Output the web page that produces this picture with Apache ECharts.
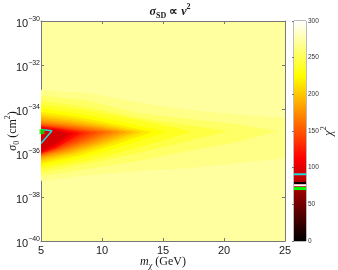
<!DOCTYPE html>
<html><head><meta charset="utf-8">
<script src="https://cdn.jsdelivr.net/npm/echarts@6/dist/echarts.min.js"></script>
<style>html,body{margin:0;padding:0;background:#fff}#c{width:338px;height:270px}</style>
</head><body><div id="c"></div>
<script>
// ---- data ----
const xTicks = [5, 10, 15, 20, 25];                 // m_chi (GeV)
const yTickExps = [-40, -38, -36, -34, -32, -30];   // log10 sigma_0 (cm^2)
const cbarTicks = [0, 50, 100, 150, 200, 250, 300]; // chi^2
const bgLevel = 272;                                 // chi^2 outside all contours
const levels = [270, 260, 250, 240, 230, 220, 210, 200, 190, 180, 170, 160, 150, 140, 130, 120, 110, 100];
// closed contour boundaries, points are [m_chi, log10 sigma_0]
const c270 = [[5,-33.14],[9,-33.3],[13,-33.72],[17,-34.05],[21,-34.25],[25,-34.42],[25,-36.23],[21,-36.45],[17,-36.68],[13,-36.8],[9,-37.0],[5,-37.25]];
const c260 = [[5,-33.41],[9,-33.65],[13,-34.2],[17,-34.45],[21,-34.7],[24.3,-35.0],[21,-35.5],[17,-35.9],[13,-36.35],[9,-36.7],[5,-37.05]];
const c250 = [[5,-33.62],[9,-33.95],[13,-34.42],[17,-34.75],[20.2,-35.0],[17,-35.45],[13,-35.98],[9,-36.45],[5,-36.88]];
const c240 = [[5,-33.82],[9.1,-34.12],[13.2,-34.54],[17.3,-35.02],[13.2,-35.7],[9.1,-36.3],[5,-36.73]];
const c230 = [[5,-34.0],[8.4,-34.26],[11.8,-34.62],[15.2,-35.03],[11.8,-35.66],[8.4,-36.21],[5,-36.6]];
const c220 = [[5,-34.15],[8,-34.38],[11,-34.69],[14,-35.05],[11,-35.62],[8,-36.12],[5,-36.48]];
const c210 = [[5,-34.27],[7.7,-34.47],[10.5,-34.74],[13.2,-35.05],[10.5,-35.58],[7.7,-36.05],[5,-36.38]];
const c200 = [[5,-34.38],[7.5,-34.55],[10.1,-34.78],[12.6,-35.05],[10.1,-35.55],[7.5,-35.99],[5,-36.3]];
const c190 = [[5,-34.48],[7.3,-34.62],[9.7,-34.82],[12,-35.05],[9.7,-35.52],[7.3,-35.94],[5,-36.23]];
const c180 = [[5,-34.56],[7.1,-34.68],[9.3,-34.85],[11.4,-35.05],[9.3,-35.5],[7.1,-35.89],[5,-36.17]];
const c170 = [[5,-34.63],[6.9,-34.74],[8.9,-34.88],[10.8,-35.05],[8.9,-35.48],[6.9,-35.85],[5,-36.12]];
const c160 = [[5,-34.69],[6.7,-34.78],[8.5,-34.92],[10.2,-35.06],[8.5,-35.46],[6.7,-35.82],[5,-36.08]];
const c150 = [[5,-34.74],[6.5,-34.82],[8.1,-34.94],[9.6,-35.07],[8.1,-35.45],[6.5,-35.8],[5,-36.05]];
const c140 = [[5,-34.78],[6.3,-34.85],[7.7,-34.96],[9.0,-35.08],[7.7,-35.44],[6.3,-35.78],[5,-36.02]];
const c130 = [[5,-34.8],[6.2,-34.87],[7.3,-34.97],[8.5,-35.09],[7.3,-35.43],[6.2,-35.77],[5,-36.0]];
const c120 = [[5,-34.83],[6.1,-34.89],[7.1,-34.99],[8.1,-35.1],[7.1,-35.45],[6.1,-35.76],[5,-35.98]];
const c110 = [[5,-34.86],[6.2,-34.93],[7.6,-35.12],[6.2,-35.65],[5,-35.95]];
const c100 = [[5,-34.9],[6.1,-34.97],[7.2,-35.15],[6.1,-35.6],[5,-35.9]];
const contours = [c270, c260, c250, c240, c230, c220, c210, c200, c190, c180, c170, c160, c150, c140, c130, c120, c110, c100];
const cyanContour = [[5.0,-34.93],[5.9,-34.99],[5.0,-35.57]];
const bestFit = [[5.08,-35.03]];
const cbarMarks = [91, 79, 76, 71.5];               // chi^2 values marked on the colour bar

// ---- styling ----
const cbarMarkColors = ['#22d8d8', '#000000', '#ffffff', '#00ff00'];
const cbarMarkPx = [2, 2, 2, 3];
const CMAX = 300;
function clamp(v){ return Math.max(0, Math.min(1, v)); }
function hot(v){
  const r = clamp(v / (CMAX*0.375)), g = clamp((v - CMAX*0.375) / (CMAX*0.375)), b = clamp((v - CMAX*0.75) / (CMAX*0.25));
  const h = x => Math.round(x*255).toString(16).padStart(2,'0');
  return '#' + h(r) + h(g) + h(b);
}
const AX = '#777';
const TXT = '#1a1a1a';
const SANS = 'Liberation Sans';
const SERIF = 'Liberation Serif';
const mathRich = {
  i: {fontFamily: SERIF, fontStyle: 'italic', fontSize: 12, color: TXT, verticalAlign: 'top', padding: [3,0,0,0], lineHeight: 12},
  n: {fontFamily: SERIF, fontSize: 12, color: TXT, verticalAlign: 'top', padding: [3,0,0,0], lineHeight: 12},
  sub: {fontFamily: SERIF, fontSize: 8, color: TXT, verticalAlign: 'top', padding: [9,0,0,0], lineHeight: 8},
  subi: {fontFamily: SERIF, fontStyle: 'italic', fontSize: 8, color: TXT, verticalAlign: 'top', padding: [9,0,0,0], lineHeight: 8},
  sup: {fontFamily: SERIF, fontSize: 8, color: TXT, verticalAlign: 'top', padding: [0,0,0,0], lineHeight: 8}
};

const chart = echarts.init(document.getElementById('c'), null, {renderer: 'canvas'});
const axisCommon = {
  axisLine: {show: true, lineStyle: {color: AX, width: 1}},
  axisTick: {show: true, inside: true, length: 3, lineStyle: {color: AX, width: 1}},
  splitLine: {show: false}
};
chart.setOption({
  animation: false,
  backgroundColor: '#ffffff',
  title: {
    text: '{i|σ}{sub|SD}{n| ∝ }{i|v}{sup|2}',
    left: 165, top: -2, textAlign: 'center',
    textStyle: {rich: mathRich}
  },
  grid: [
    {left: 41, top: 21, width: 244, height: 220, show: true, backgroundColor: hot(bgLevel), borderWidth: 0, outerBoundsMode: 'none', containLabel: false},
    {left: 294, top: 21, width: 12, height: 220, show: true, backgroundColor: 'transparent', borderColor: AX, borderWidth: 1, outerBoundsMode: 'none', containLabel: false}
  ],
  xAxis: [
    Object.assign({}, axisCommon, {
      gridIndex: 0, type: 'value', position: 'bottom', min: xTicks[0], max: xTicks[xTicks.length-1], interval: 5,
      axisLabel: {fontSize: 11, fontFamily: SANS, color: TXT, margin: 4},
      name: '{i|m}{subi|χ}{n| (GeV)}', nameLocation: 'middle', nameGap: 12, nameMoveOverlap: false,
      nameTextStyle: {rich: mathRich}
    }),
    Object.assign({}, axisCommon, {
      gridIndex: 0, type: 'value', position: 'top', min: xTicks[0], max: xTicks[xTicks.length-1], interval: 5,
      axisLabel: {show: false}
    }),
    {gridIndex: 1, type: 'value', min: 0, max: 1, show: false}
  ],
  yAxis: [
    Object.assign({}, axisCommon, {
      gridIndex: 0, type: 'value', position: 'left', min: yTickExps[0], max: yTickExps[yTickExps.length-1], interval: 2,
      axisLabel: {
        margin: 1,
        formatter: v => '{b|10}{s|' + (v < 0 ? '\u2212' : '') + Math.abs(v) + '}',
        rich: {
          b: {fontSize: 11, fontFamily: SANS, color: TXT, verticalAlign: 'top', padding: [3,0,0,0], lineHeight: 11},
          s: {fontSize: 7, fontFamily: SANS, color: TXT, verticalAlign: 'top', lineHeight: 7}
        }
      },
      name: '{i|σ}{sub|0}{n| (cm}{sup|2}{n|)}', nameLocation: 'middle', nameGap: 25, nameRotate: 90, nameMoveOverlap: false,
      nameTextStyle: {rich: mathRich}
    }),
    Object.assign({}, axisCommon, {
      gridIndex: 0, type: 'value', position: 'right', min: yTickExps[0], max: yTickExps[yTickExps.length-1], interval: 2,
      axisLabel: {show: false}
    }),
    {
      gridIndex: 1, type: 'value', position: 'right', min: cbarTicks[0], max: cbarTicks[cbarTicks.length-1], interval: 50,
      axisLine: {show: false},
      axisTick: {show: true, inside: true, length: 2, lineStyle: {color: AX}},
      splitLine: {show: false},
      axisLabel: {fontSize: 6.5, fontFamily: SANS, color: '#333', margin: 2},
      name: '{i|χ}{sup|2}', nameLocation: 'middle', nameGap: 14, nameRotate: 90, nameMoveOverlap: false,
      nameTextStyle: {rich: mathRich}
    }
  ],
  series: [
    {
      type: 'custom', coordinateSystem: 'cartesian2d', xAxisIndex: 0, yAxisIndex: 0, clip: true, silent: true, z: 2,
      data: contours.map((c, i) => [c[0][0], c[0][1], levels[i]]),
      renderItem: function (params, api) {
        const i = params.dataIndex;
        const pts = contours[i].map(p => api.coord(p));
        const col = hot(levels[i] - 5);
        return {type: 'polygon', shape: {points: pts}, style: {fill: col, stroke: col, lineWidth: 0.6}};
      }
    },
    {
      type: 'line', xAxisIndex: 0, yAxisIndex: 0, data: cyanContour, showSymbol: false, symbol: 'none', clip: false, z: 5,
      lineStyle: {color: '#22d8d8', width: 1.5}, silent: true
    },
    {
      type: 'scatter', xAxisIndex: 0, yAxisIndex: 0, data: bestFit, symbol: 'rect', symbolSize: 5, clip: false, z: 6,
      itemStyle: {color: '#00ee00'}, silent: true
    },
    {
      type: 'custom', coordinateSystem: 'cartesian2d', xAxisIndex: 2, yAxisIndex: 2, silent: true, z: 2,
      data: [[0, cbarTicks[0]]],
      renderItem: function (params, api) {
        const p0 = api.coord([0, cbarTicks[0]]), p1 = api.coord([1, cbarTicks[cbarTicks.length-1]]);
        return {type: 'rect', shape: {x: p0[0], y: p1[1], width: p1[0]-p0[0], height: p0[1]-p1[1]},
          style: {fill: {type: 'linear', x: 0, y: 1, x2: 0, y2: 0, colorStops: [
            {offset: 0, color: '#000000'}, {offset: 0.375, color: '#ff0000'}, {offset: 0.75, color: '#ffff00'}, {offset: 1, color: '#ffffff'}]}}};
      }
    },
    {
      type: 'custom', coordinateSystem: 'cartesian2d', xAxisIndex: 2, yAxisIndex: 2, silent: true, z: 3,
      data: cbarMarks.map(v => [0.5, v]),
      renderItem: function (params, api) {
        const i = params.dataIndex;
        const l = api.coord([0, api.value(1)]), r = api.coord([1, api.value(1)]);
        const h = cbarMarkPx[i];
        return {type: 'rect', shape: {x: l[0], y: l[1] - h/2, width: r[0]-l[0], height: h}, style: {fill: cbarMarkColors[i]}};
      }
    }
  ]
});
</script></body></html>
